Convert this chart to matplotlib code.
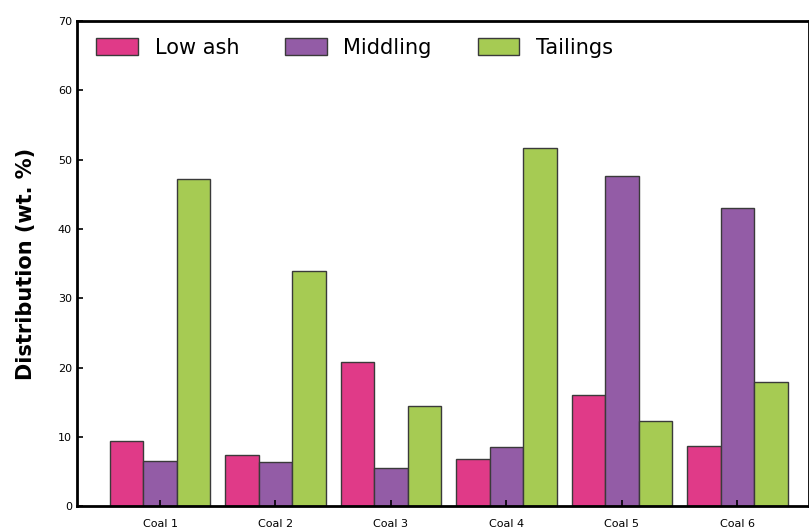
import matplotlib
matplotlib.use("Agg")
import matplotlib.pyplot as plt
import numpy as np

categories = ["Coal 1", "Coal 2", "Coal 3", "Coal 4", "Coal 5", "Coal 6"]
low_ash = [9.4, 7.4, 20.8, 6.8, 16.0, 8.7]
middling = [6.5, 6.3, 5.5, 8.5, 47.6, 43.1]
tailings = [47.2, 33.9, 14.4, 51.7, 12.3, 17.9]
series_names = ["Low ash", "Middling", "Tailings"]
colors = ["#E03A88", "#935CA6", "#A6CB53"]

fig = plt.figure(figsize=(8.09, 5.31), dpi=100)
ax = fig.add_axes([0.095, 0.047, 0.905, 0.913])

x = np.arange(len(categories))
w = 0.29
for i, (vals, name, c) in enumerate(zip([low_ash, middling, tailings], series_names, colors)):
    ax.bar(x + (i - 1) * w, vals, width=w, color=c, edgecolor="#3a3a3a",
           linewidth=1.0, label=name)

ax.set_xlim(-0.72, 5.62)
ax.set_ylim(0, 70)
ax.set_yticks(np.arange(0, 71, 10))
ax.set_xticks(x)
ax.set_xticklabels(categories, fontsize=8)
ax.tick_params(axis="y", labelsize=8, direction="in", length=4, width=1.2)
ax.tick_params(axis="x", direction="in", length=4, width=1.2, pad=9)
for s in ax.spines.values():
    s.set_linewidth(2)
ax.set_ylabel("Distribution (wt. %)", fontsize=15, fontweight="bold", labelpad=16)

ax.legend(loc="upper left", ncol=3, frameon=False, fontsize=15,
          handlelength=2.0, handleheight=0.85, columnspacing=2.2,
          bbox_to_anchor=(0.004, 1.0), borderaxespad=0.4)

fig.savefig("out.png", dpi=100)
